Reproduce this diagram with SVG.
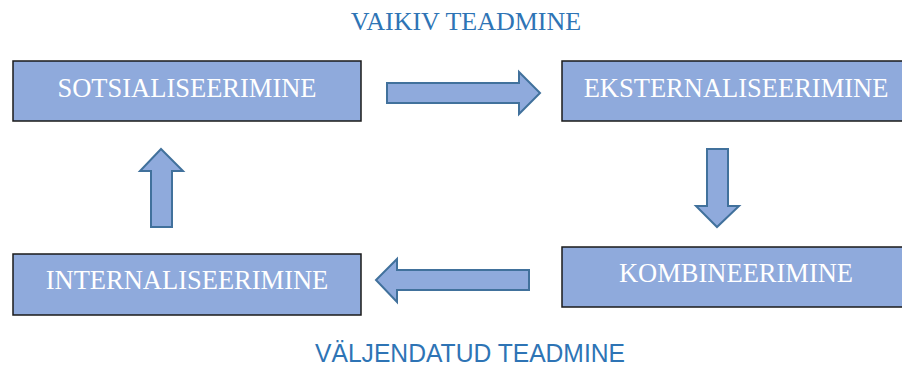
<svg xmlns="http://www.w3.org/2000/svg" width="902" height="367" viewBox="0 0 902 367">
<style>
.box{fill:#8FAADC;stroke:#1a1a1a;stroke-width:1.5}
.lbl{font-family:"Liberation Serif","Times New Roman",serif;font-size:26.5px;fill:#ffffff;text-anchor:middle}
.arr{fill:#8FAADC;stroke:#41719C;stroke-width:2;stroke-linejoin:miter}
.t1{font-family:"Liberation Serif","Times New Roman",serif;font-size:26px;fill:#2E74B5;text-anchor:middle}
.t2{font-family:"Liberation Sans",Arial,sans-serif;font-size:25px;fill:#2E74B5;text-anchor:middle}
</style>
<rect width="902" height="367" fill="#ffffff"/>
<text class="t1" x="466" y="30">VAIKIV TEADMINE</text>
<text class="t2" x="470" y="362" textLength="310" lengthAdjust="spacingAndGlyphs">VÄLJENDATUD TEADMINE</text>
<g id="sotsialiseerimine">
<rect class="box" x="13" y="61" width="348" height="60"/>
<text class="lbl" x="187" y="97">SOTSIALISEERIMINE</text>
</g>
<g id="eksternaliseerimine">
<rect class="box" x="562" y="61" width="350" height="60"/>
<text class="lbl" x="736" y="97">EKSTERNALISEERIMINE</text>
</g>
<g id="kombineerimine">
<rect class="box" x="562" y="247" width="350" height="60"/>
<text class="lbl" x="736" y="282">KOMBINEERIMINE</text>
</g>
<g id="internaliseerimine">
<rect class="box" x="13" y="254" width="348" height="61"/>
<text class="lbl" x="187" y="289">INTERNALISEERIMINE</text>
</g>
<g id="connectors">
<polygon class="arr" points="387,83 519,83 519,72 540,93 519,114 519,103 387,103"/>
<polygon class="arr" points="707,149 728,149 728,206 739,206 717,227 696,206 707,206"/>
<polygon class="arr" points="529,270 397,270 397,259 376,280 397,302 397,290 529,290"/>
<polygon class="arr" points="151,227 151,171 140,171 161,149 183,171 172,171 172,227"/>
</g>
</svg>
